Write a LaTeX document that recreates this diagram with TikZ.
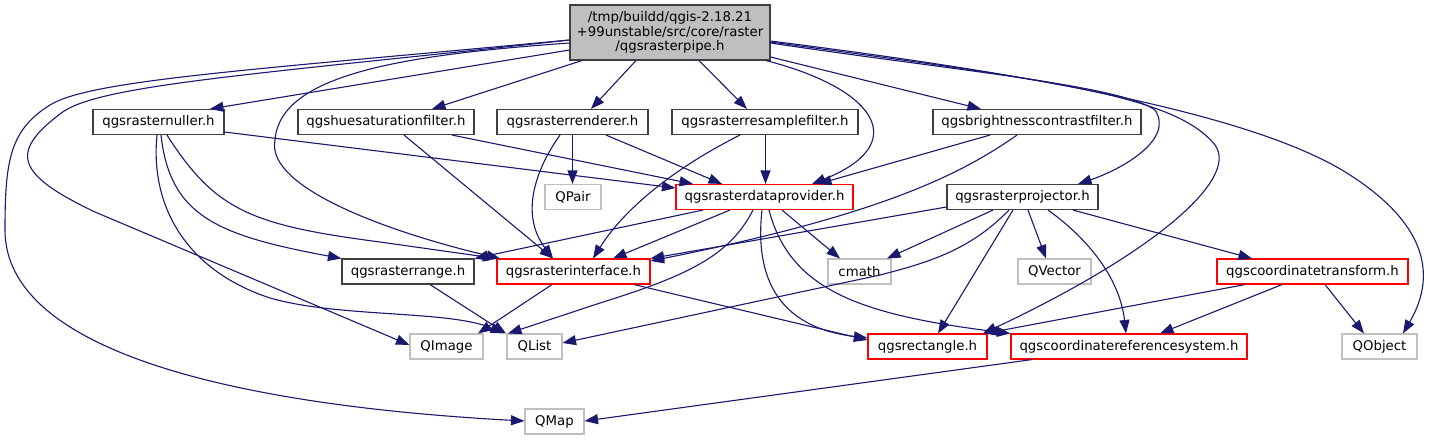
\documentclass[tikz,border=0pt]{standalone}
\usepackage{fontspec}
\newfontfamily\dv{DejaVu Sans}
\usetikzlibrary{arrows.meta}
\definecolor{edgecol}{RGB}{25,25,112}
\definecolor{redb}{RGB}{255,0,0}
\definecolor{grayb}{RGB}{191,191,191}
\definecolor{rootfill}{RGB}{191,191,191}
\definecolor{blackb}{RGB}{64,64,64}
\begin{document}
\begin{tikzpicture}[x=1pt,y=-1pt,
  box/.style={draw=blackb, line width=1.1pt, fill=white, inner sep=0pt, minimum height=25pt, font=\dv\fontsize{13.3}{15}\selectfont},
  redbox/.style={box, draw=redb},
  graybox/.style={box, draw=grayb},
  edge/.style={draw=edgecol, line width=1.1pt, -{Triangle[length=13.5pt,width=10pt]}}]
\useasboundingbox[fill=white] (0,0) rectangle (1431,440);
% nodes
\node[box, fill=rootfill, minimum width=200pt, minimum height=55pt, align=center, font=\dv\fontsize{13.3}{14.5}\selectfont] (root) at (670,32.5) {/tmp/buildd/qgis-2.18.21\\+99unstable/src/core/raster\\/qgsrasterpipe.h};
\node[box, minimum width=131pt] (nuller) at (158.5,122) {qgsrasternuller.h};
\node[box, minimum width=176pt] (hue) at (386,122) {qgshuesaturationfilter.h};
\node[box, minimum width=151pt] (renderer) at (572.5,122) {qgsrasterrenderer.h};
\node[box, minimum width=186pt] (resample) at (765,122) {qgsrasterresamplefilter.h};
\node[box, minimum width=208pt] (bright) at (1037,122) {qgsbrightnesscontrastfilter.h};
\node[graybox, minimum width=56pt] (qpair) at (573,197) {QPair};
\node[redbox, minimum width=177pt] (dp) at (764.5,197) {qgsrasterdataprovider.h};
\node[box, minimum width=151pt] (proj) at (1022.5,197) {qgsrasterprojector.h};
\node[box, minimum width=132pt] (range) at (408,271.5) {qgsrasterrange.h};
\node[redbox, minimum width=153pt] (iface) at (573.5,271.5) {qgsrasterinterface.h};
\node[graybox, minimum width=63pt] (cmath) at (859.5,271.5) {cmath};
\node[graybox, minimum width=73pt] (qvector) at (1054.5,271.5) {QVector};
\node[redbox, minimum width=191pt] (ct) at (1312.5,271.5) {qgscoordinatetransform.h};
\node[graybox, minimum width=73pt] (qimage) at (446.5,346.5) {QImage};
\node[graybox, minimum width=55pt] (qlist) at (534.5,346.5) {QList};
\node[redbox, minimum width=119pt] (rect) at (927.5,346.5) {qgsrectangle.h};
\node[redbox, minimum width=236pt] (crs) at (1129,346.5) {qgscoordinatereferencesystem.h};
\node[graybox, minimum width=75pt] (qobject) at (1379.5,346.5) {QObject};
\node[graybox, minimum width=59pt] (qmap) at (554.5,421.5) {QMap};
% edges from root
\draw[edge] (root.west |- 0,50) -- (210,0 |- nuller.north);
\draw[edge] (582,0 |- root.south) -- (432,0 |- hue.north);
\draw[edge] (636,0 |- root.south) -- (591,0 |- renderer.north);
\draw[edge] (699,0 |- root.south) -- (747,0 |- resample.north);
\draw[edge] (root.east |- 0,57) -- (981,0 |- bright.north);
\draw[edge] (766,0 |- root.south) .. controls (880,90) and (910,145) .. (812,0 |- dp.north);
\draw[edge] (root.east |- 0,43) .. controls (950,70) and (1120,85) .. (1155,110) .. controls (1175,140) and (1120,170) .. (1078,0 |- proj.north);
\draw[edge] (root.east |- 0,42) .. controls (1050,80) and (1175,95) .. (1215,145) .. controls (1240,180) and (1150,255) .. (983,0 |- rect.north);
\draw[edge] (root.east |- 0,41) .. controls (1000,70) and (1250,110) .. (1350,175) .. controls (1420,220) and (1440,270) .. (1403,0 |- qobject.north);
\draw[edge] (root.west |- 0,43) .. controls (400,55) and (280,75) .. (275,140) .. controls (265,190) and (400,235) .. (500,0 |- iface.north);
\draw[edge] (root.west |- 0,40) .. controls (250,75) and (95,85) .. (60,114) .. controls (10,152) and (15,174) .. (95,212) -- (qimage.west |- 0,345);
\draw[edge] (root.west |- 0,40) .. controls (250,70) and (90,80) .. (50,105) .. controls (10,130) and (5,160) .. (5,230) .. controls (5,350) and (230,405) .. (qmap.west |- 0,421);
% nuller
\draw[edge] (nuller.east |- 0,132) -- (dp.west |- 0,188);
\draw[edge] (157,0 |- nuller.south) .. controls (150,205) and (185,270) .. (270,298) .. controls (340,318) and (450,310) .. (504,0 |- qlist.north);
\draw[edge] (161,0 |- nuller.south) .. controls (170,215) and (215,235) .. (range.north west);
\draw[edge] (167,0 |- nuller.south) .. controls (215,210) and (250,225) .. (380,242) -- (iface.north west);
% hue
\draw[edge] (452,0 |- hue.south) -- (693,0 |- dp.north);
\draw[edge] (404,0 |- hue.south) -- (553,0 |- iface.north);
% renderer
\draw[edge] (572.5,0 |- renderer.south) -- (572.5,0 |- qpair.north);
\draw[edge] (560,0 |- renderer.south) .. controls (535,170) and (520,215) .. (553,0 |- iface.north);
\draw[edge] (606,0 |- renderer.south) -- (722,0 |- dp.north);
% resample
\draw[edge] (740,0 |- resample.south) .. controls (690,160) and (630,200) .. (593,0 |- iface.north);
\draw[edge] (765.5,0 |- resample.south) -- (765.5,0 |- dp.north);
% brightness
\draw[edge] (990,0 |- bright.south) -- (818,0 |- dp.north);
\draw[edge] (1017,0 |- bright.south) .. controls (960,175) and (880,215) .. (iface.east |- 0,261);
% projector
\draw[edge] (proj.west |- 0,207) -- (iface.north east);
\draw[edge] (993,0 |- proj.south) -- (887,0 |- cmath.north);
\draw[edge] (1009,0 |- proj.south) .. controls (970,250) and (930,262) .. (880,275) -- (qlist.east |- 0,343);
\draw[edge] (1013,0 |- proj.south) -- (938,0 |- rect.north);
\draw[edge] (1028,0 |- proj.south) -- (1046,0 |- qvector.north);
\draw[edge] (1048,0 |- proj.south) .. controls (1090,240) and (1120,280) .. (1126,0 |- crs.north);
\draw[edge] (1073,0 |- proj.south) -- (1252,0 |- ct.north);
% dataprovider
\draw[edge] (703,0 |- dp.south) -- (range.north east);
\draw[edge] (730,0 |- dp.south) -- (613,0 |- iface.north);
\draw[edge] (753,0 |- dp.south) .. controls (730,255) and (690,275) .. (600,303) -- (508,0 |- qlist.north);
\draw[edge] (762,0 |- dp.south) .. controls (752,300) and (800,330) .. (rect.west |- 0,338);
\draw[edge] (769,0 |- dp.south) .. controls (790,290) and (860,315) .. (crs.north west);
\draw[edge] (782,0 |- dp.south) -- (840,0 |- cmath.north);
% coordinatetransform
\draw[edge] (1245,0 |- ct.south) -- (985,0 |- rect.north);
\draw[edge] (1282,0 |- ct.south) -- (1160,0 |- crs.north);
\draw[edge] (1325,0 |- ct.south) -- (1364,0 |- qobject.north);
% interface, range, crs
\draw[edge] (634,0 |- iface.south) -- (rect.west |- 0,340);
\draw[edge] (552,0 |- iface.south) -- (478,0 |- qimage.north);
\draw[edge] (430,0 |- range.south) -- (506,0 |- qlist.north);
\draw[edge] (1032,0 |- crs.south) -- (qmap.east |- 0,421);
\end{tikzpicture}
\end{document}
